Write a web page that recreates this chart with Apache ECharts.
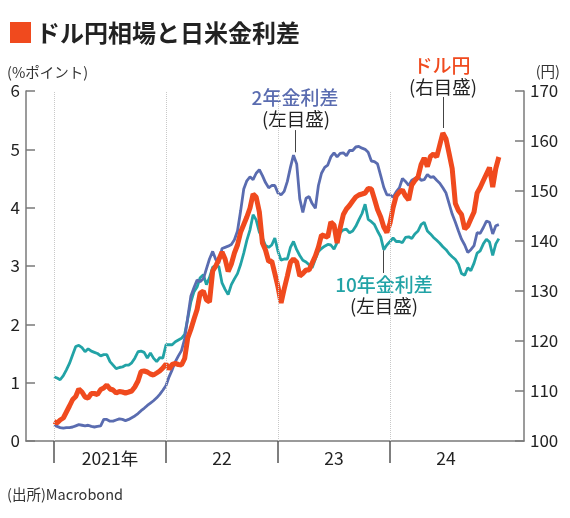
<!DOCTYPE html>
<html><head><meta charset="utf-8">
<script src="https://cdn.jsdelivr.net/npm/echarts@6/dist/echarts.min.js"></script>
<style>html,body{margin:0;padding:0;background:#fff}#c{width:570px;height:518px}</style>
</head><body><div id="c"></div>
<script>
// time grid: three observations per month (1st, 11th, 21st), Jan 2021 - Dec 2024
const years = [2021, 2022, 2023, 2024];
const obsDays = [1, 11, 21];

// USD/JPY (right axis, yen)
const usdjpy = [
  103.9,103.6,104.2, 104.6,105.8,107.0, 108.3,108.9,110.4, 109.8,108.8,108.6, 109.5,109.5,109.3, 110.3,110.6,111.2,
  110.4,110.2,109.6, 109.9,109.8,109.6, 109.8,110.0,110.8, 112.0,113.9,114.0, 113.8,113.4,113.2, 113.6,114.0,114.6,
  115.4,114.4,115.3, 115.5,115.3,115.2, 116.5,120.6,122.3, 124.4,126.3,129.6, 130.0,128.2,127.8, 134.0,135.0,136.3,
  137.8,136.4,133.9, 135.4,137.6,139.2, 141.8,143.3,144.8, 146.6,149.4,148.8, 145.8,139.6,138.2, 135.9,136.0,133.5,
  130.8,127.6,130.4, 133.0,135.7,136.4, 135.8,133.0,133.5, 134.2,134.2,135.6, 137.0,138.8,141.2, 141.0,140.8,143.8,
  143.2,139.6,142.6, 145.3,146.4,147.1, 148.0,148.8,149.2, 149.4,149.6,150.5, 150.4,148.4,146.3, 144.8,142.8,141.7,
  143.6,146.7,149.0, 149.8,150.2,149.0, 148.2,151.2,152.1, 152.8,155.3,156.6, 154.9,156.9,157.4, 156.8,159.2,161.6,
  160.4,157.5,154.5, 147.5,146.1,145.3, 142.4,143.0,144.4, 145.8,149.6,150.7, 152.1,153.4,154.7, 150.8,154.5,156.8
];
// US-Japan 2-year yield spread (left axis, %pt)
const spread2y = [
  0.27,0.25,0.23, 0.22,0.23,0.23, 0.24,0.26,0.28, 0.27,0.26,0.27, 0.25,0.24,0.25, 0.26,0.37,0.37,
  0.34,0.34,0.36, 0.38,0.37,0.35, 0.37,0.40,0.43, 0.47,0.52,0.56, 0.61,0.65,0.69, 0.74,0.80,0.87,
  0.95,1.10,1.22, 1.36,1.46,1.55, 1.75,2.12,2.48, 2.63,2.76,2.73, 2.78,2.95,3.12, 3.25,3.11,3.05,
  3.30,3.32,3.34, 3.37,3.45,3.60, 3.95,4.32,4.46, 4.53,4.48,4.59, 4.65,4.55,4.43, 4.34,4.38,4.38,
  4.25,4.22,4.28, 4.45,4.69,4.90, 4.75,4.15,3.92, 4.16,4.19,4.07, 3.99,4.38,4.59, 4.69,4.73,4.87,
  4.94,4.87,4.93, 4.94,4.89,4.98, 4.98,5.04,5.05, 5.02,5.00,4.95, 4.80,4.79,4.75, 4.55,4.35,4.22,
  4.22,4.18,4.27, 4.34,4.50,4.45, 4.38,4.47,4.50, 4.53,4.47,4.48, 4.57,4.52,4.53, 4.47,4.42,4.34,
  4.25,4.07,3.89, 3.75,3.60,3.46, 3.36,3.23,3.28, 3.35,3.57,3.56, 3.66,3.77,3.75, 3.55,3.69,3.71
];
// US-Japan 10-year yield spread (left axis, %pt)
const spread10y = [
  1.10,1.08,1.05, 1.12,1.22,1.33, 1.48,1.62,1.64, 1.60,1.53,1.58, 1.54,1.52,1.50, 1.46,1.48,1.48,
  1.36,1.30,1.24, 1.26,1.27,1.30, 1.30,1.34,1.42, 1.53,1.54,1.52, 1.42,1.51,1.42, 1.36,1.43,1.42,
  1.65,1.65,1.65, 1.70,1.73,1.76, 1.83,2.10,2.38, 2.56,2.64,2.80, 2.85,2.68,2.80, 2.98,3.01,2.99,
  2.71,2.60,2.51, 2.68,2.78,2.87, 3.03,3.22,3.44, 3.62,3.88,3.79, 3.58,3.48,3.35, 3.32,3.36,3.48,
  3.25,3.10,3.12, 3.12,3.32,3.42, 3.28,3.18,3.10, 3.07,3.02,2.97, 3.12,3.25,3.30, 3.34,3.37,3.36,
  3.29,3.40,3.57, 3.62,3.63,3.57, 3.60,3.68,3.79, 3.90,4.06,3.80, 3.76,3.71,3.60, 3.50,3.28,3.36,
  3.42,3.48,3.42, 3.42,3.40,3.49, 3.50,3.47,3.55, 3.60,3.71,3.75, 3.60,3.55,3.49, 3.44,3.39,3.33,
  3.28,3.21,3.16, 3.11,3.03,2.87, 2.84,2.97,2.92, 3.05,3.22,3.26, 3.38,3.46,3.41, 3.18,3.38,3.47
];
const yearLabels = ['2021年', '22', '23', '24'];
const leftTicks = { min: 0, max: 6, interval: 1 };
const rightTicks = { min: 100, max: 170, interval: 10 };

// decimal-year positions for each observation
const times = [];
years.forEach(y => { for (let m = 1; m <= 12; m++) obsDays.forEach(d => times.push(y + (m - 1) / 12 + (d - 1) / 365)); });
const pair = arr => arr.map((v, i) => [times[i], v]);

const FONT = '"Noto Sans CJK JP", "Noto Sans", sans-serif';
const C_RED = '#f04a1e', C_BLUE = '#5a6cb0', C_TEAL = '#22a3a6';

const chart = echarts.init(document.getElementById('c'), null, { renderer: 'canvas' });
const axisLineStyle = { color: '#7a7a7a', width: 1.5 };
const txt = (x, y, text, size, fill, align, weight) => ({
  type: 'text', x, y,
  style: { text, font: (weight || 'normal') + ' ' + size + 'px ' + FONT, fill,
    align: align || 'left', textAlign: align || 'left', verticalAlign: 'middle', textVerticalAlign: 'middle' }
});
chart.setOption({
  animation: false,
  backgroundColor: '#fff',
  textStyle: { fontFamily: FONT },
  grid: { left: 26, right: 46, top: 91, bottom: 77, containLabel: false, outerBoundsMode: 'none' },
  xAxis: {
    type: 'value', min: 2020.75, max: 2025.196,
    axisLine: { show: true, onZero: false, lineStyle: axisLineStyle },
    axisTick: { show: true, customValues: [2021, 2022, 2023, 2024], length: 22, lineStyle: { color: '#555', width: 1.5 } },
    axisLabel: { customValues: [2021.5, 2022.5, 2023.5, 2024.5], margin: 9, fontSize: 17.5, color: '#222', fontFamily: FONT,
      formatter: v => yearLabels[Math.round(v - 2021.5)] },
    splitLine: { show: false }
  },
  yAxis: [
    { type: 'value', position: 'left', min: leftTicks.min, max: leftTicks.max, interval: leftTicks.interval,
      axisLine: { show: true, onZero: false, lineStyle: axisLineStyle },
      axisTick: { show: true, inside: true, length: 9, lineStyle: { color: '#7a7a7a', width: 1.5 } },
      axisLabel: { margin: 6, fontSize: 17, color: '#222', fontFamily: FONT },
      splitLine: { show: false } },
    { type: 'value', position: 'right', min: rightTicks.min, max: rightTicks.max, interval: rightTicks.interval,
      axisLine: { show: true, onZero: false, lineStyle: axisLineStyle },
      axisTick: { show: true, inside: true, length: 9, lineStyle: { color: '#7a7a7a', width: 1.5 } },
      axisLabel: { margin: 6, fontSize: 17, color: '#222', fontFamily: FONT },
      splitLine: { show: false } }
  ],
  series: [
    { name: '10年金利差', type: 'line', yAxisIndex: 0, data: pair(spread10y), showSymbol: false, z: 2,
      lineStyle: { color: C_TEAL, width: 2.8 }, itemStyle: { color: C_TEAL },
      markLine: { silent: true, symbol: 'none', animation: false, label: { show: false },
        lineStyle: { type: 'dotted', color: '#c8c8c8', width: 1 },
        data: [{ xAxis: 2021 }, { xAxis: 2022 }, { xAxis: 2023 }, { xAxis: 2024 },
          [{ coord: [2023.938, 3.27], lineStyle: { type: 'solid', color: '#444', width: 1 } }, { coord: [2023.938, 2.88] }]] } },
    { name: '2年金利差', type: 'line', yAxisIndex: 0, data: pair(spread2y), showSymbol: false, z: 3,
      lineStyle: { color: C_BLUE, width: 2.8 }, itemStyle: { color: C_BLUE },
      markLine: { silent: true, symbol: 'none', animation: false, label: { show: false },
        lineStyle: { type: 'solid', color: '#444', width: 1 },
        data: [[{ coord: [2023.152, 5.33] }, { coord: [2023.152, 4.95] }]] } },
    { name: 'ドル円', type: 'line', yAxisIndex: 1, data: pair(usdjpy), showSymbol: false, z: 4,
      lineStyle: { color: C_RED, width: 5 }, itemStyle: { color: C_RED },
      markLine: { silent: true, symbol: 'none', animation: false, label: { show: false },
        lineStyle: { type: 'solid', color: '#444', width: 1 },
        data: [[{ coord: [2024.473, 168.8] }, { coord: [2024.473, 162.6] }]] } }
  ],
  graphic: [
    { type: 'rect', shape: { x: 10, y: 22, width: 21, height: 21 }, style: { fill: C_RED } },
    txt(36, 33, 'ドル円相場と日米金利差', 24, '#222', 'left', 'bold'),
    txt(7, 72, '(%ポイント)', 14.5, '#333', 'left'),
    txt(560, 71, '(円)', 14.5, '#333', 'right'),
    txt(295, 98, '2年金利差', 19, C_BLUE, 'center', '500'),
    txt(296, 119, '(左目盛)', 18.5, '#222', 'center'),
    txt(442, 66, 'ドル円', 19, C_RED, 'center', '500'),
    txt(443, 87, '(右目盛)', 18.5, '#222', 'center'),
    txt(384, 285, '10年金利差', 19, C_TEAL, 'center', '500'),
    txt(384, 306, '(左目盛)', 18.5, '#222', 'center'),
    txt(7, 494, '(出所)Macrobond', 14.5, '#333', 'left')
  ]
});
</script></body></html>
